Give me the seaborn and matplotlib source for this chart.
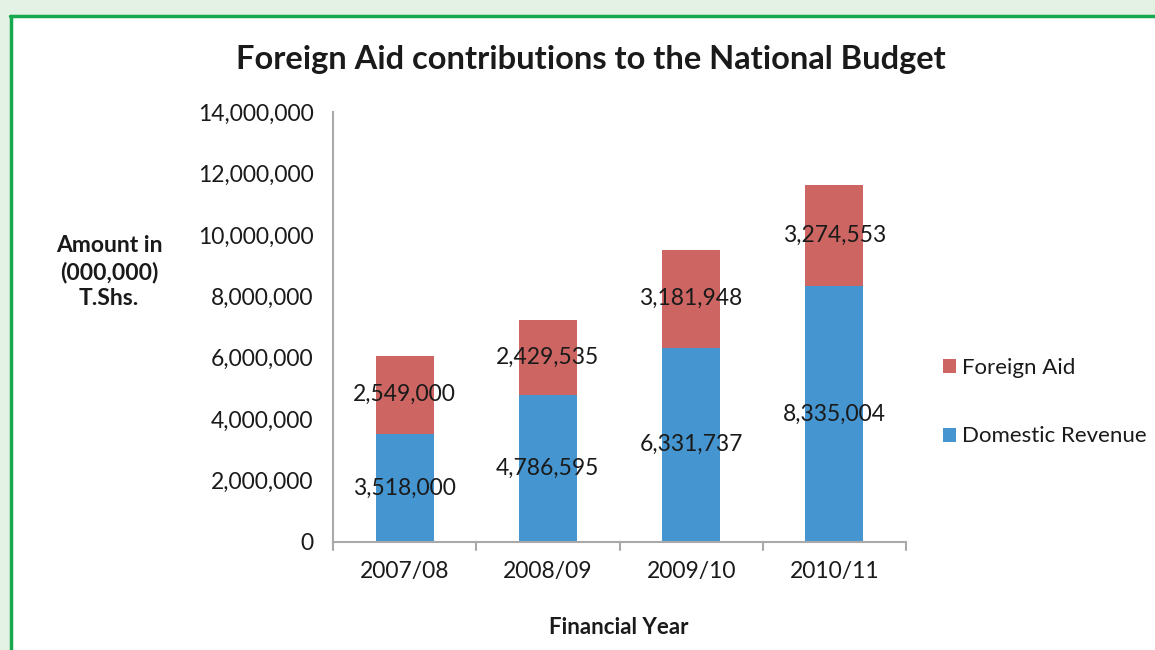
import matplotlib
matplotlib.use("Agg")
import matplotlib.pyplot as plt
import seaborn as sns
import pandas as pd
from matplotlib.patches import Rectangle
from matplotlib.lines import Line2D

years = ["2007/08", "2008/09", "2009/10", "2010/11"]
domestic = [3518000, 4786595, 6331737, 8335004]
foreign = [2549000, 2429535, 3181948, 3274553]
yticks = [0, 2000000, 4000000, 6000000, 8000000, 10000000, 12000000, 14000000]

sns.set_style("white")
plt.rcParams['font.family'] = ['Lato', 'DejaVu Sans']

BLUE = "#4596D0"
RED = "#CD6662"
GREEN = "#16A84E"
GRID = "#A9A9A9"
TXT = "#1a1a1a"

fig = plt.figure(figsize=(11.55, 6.5), dpi=100)
fig.patch.set_facecolor("white")

# frame decorations
fig.patches.append(Rectangle((0, 1 - 15/650), 1, 15/650, transform=fig.transFigure,
                             facecolor="#E3F2E4", edgecolor="none", zorder=0))
fig.patches.append(Rectangle((0, 0), 10/1155, 1 - 15/650, transform=fig.transFigure,
                             facecolor="#E3F2E4", edgecolor="none", zorder=0))
fig.lines.append(Line2D([10/1155, 1], [1 - 16/650, 1 - 16/650], transform=fig.transFigure,
                        color=GREEN, lw=2.5))
fig.lines.append(Line2D([11/1155, 11/1155], [0, 1 - 16/650], transform=fig.transFigure,
                        color=GREEN, lw=2.5))

ax = fig.add_axes([333/1155, 1 - 542/650, (906 - 333)/1155, (542 - 112)/650])

df = pd.DataFrame({"year": years, "domestic": domestic, "foreign": foreign})

sns.barplot(data=df, x="year", y="domestic", color=BLUE, width=0.405, ax=ax,
            saturation=1, label="Domestic Revenue", linewidth=0)
sns.barplot(data=df, x="year", y="foreign", bottom=df["domestic"], color=RED, width=0.405,
            ax=ax, saturation=1, label="Foreign Aid", linewidth=0)

for i, (d, f) in enumerate(zip(domestic, foreign)):
    ax.text(i, d / 2, f"{d:,}", ha="center", va="center", fontsize=16.5, color=TXT)
    ax.text(i, d + f / 2, f"{f:,}", ha="center", va="center", fontsize=16.5, color=TXT)

ax.set_xlim(-0.5, 3.5)
ax.set_ylim(0, 14000000)
ax.set_yticks(yticks)
ax.set_yticklabels([f"{v:,}" for v in yticks], fontsize=16.5, color=TXT)
ax.set_xticks(range(4))
ax.set_xticklabels(years, fontsize=16.5, color=TXT)
ax.tick_params(axis="x", length=0, pad=14)
ax.tick_params(axis="y", length=6, width=1.5, color=GRID, pad=8, direction="out")

# boundary tick marks on x
for b in [-0.5, 0.5, 1.5, 2.5, 3.5]:
    ax.plot([b, b], [0, -0.018], transform=ax.get_xaxis_transform(), color=GRID, lw=1.5,
            clip_on=False)

for s in ["top", "right"]:
    ax.spines[s].set_visible(False)
for s in ["left", "bottom"]:
    ax.spines[s].set_color(GRID)
    ax.spines[s].set_linewidth(1.5)

ax.set_xlabel("")
ax.set_ylabel("")

fig.text(619/1155, 1 - 628/650, "Financial Year", ha="center", va="center",
         fontsize=16, fontweight="bold", color=TXT)
fig.text(109/1155, 1 - 272/650, "Amount in\n(000,000)\nT.Shs.", ha="center", va="center",
         fontsize=16.5, fontweight="bold", color=TXT, linespacing=1.3)
fig.text(591/1155, 1 - 60/650, "Foreign Aid contributions to the National Budget",
         ha="center", va="center", fontsize=23.5, fontweight="bold", color=TXT)

handles, labels = ax.get_legend_handles_labels()
order = [labels.index("Foreign Aid"), labels.index("Domestic Revenue")]
leg = ax.legend([handles[i] for i in order], [labels[i] for i in order],
                loc="center left", bbox_to_anchor=(943/1155, 1 - 402/650),
                bbox_transform=fig.transFigure, frameon=False, fontsize=16,
                borderaxespad=0, borderpad=0,
                handlelength=0.6, handleheight=0.6, handletextpad=0.25, labelspacing=2.2)
for t in leg.get_texts():
    t.set_color(TXT)

fig.savefig("out.png", dpi=100, facecolor=fig.get_facecolor())
